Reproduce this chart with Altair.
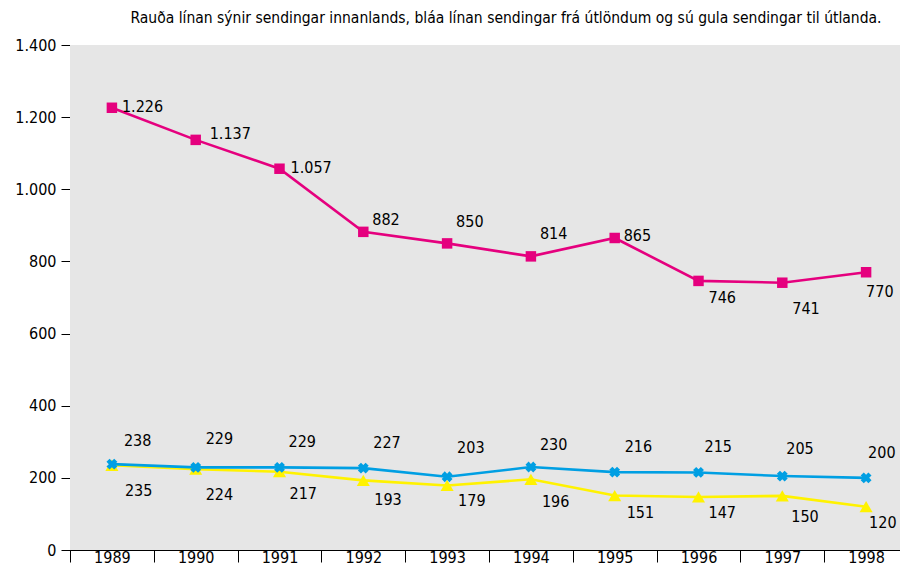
import altair as alt
import pandas as pd

# ---- data ----
years = ["1989", "1990", "1991", "1992", "1993", "1994", "1995", "1996", "1997", "1998"]
innanlands = [1226, 1137, 1057, 882, 850, 814, 865, 746, 741, 770]      # red/magenta
fra_utlondum = [238, 229, 229, 227, 203, 230, 216, 215, 205, 200]       # blue
til_utlanda = [235, 224, 217, 193, 179, 196, 151, 147, 150, 120]        # yellow

title_text = ("Rauða línan sýnir sendingar innanlands, bláa línan sendingar "
              "frá útlöndum og sú gula sendingar til útlanda.")
y_ticks = [0, 200, 400, 600, 800, 1000, 1200, 1400]

# ---- label placement offsets (pixels, relative to each point) ----
mag_dx = [10, 14, 11, 9, 9, 9, 9, 10, 10, 0]
mag_dy = [-1, -6, -1, -12, -21, -22, -2, 17, 26, 20]
blue_dx = [12, 10, 9, 10, 10, 9, 10, 6, 4, 2]
blue_dy = [-23, -28, -25, -25, -29, -22, -25, -25, -27, -25]
yel_dx = [13, 10, 10, 11, 11, 11, 12, 10, 9, 3]
yel_dy = [26, 26, 22, 20, 16, 23, 17, 16, 21, 16]

# ---- style ----
FONT = "'Liberation Sans Narrow', 'DejaVu Sans Condensed', 'Arial Narrow', sans-serif"
MAGENTA = "#E5007E"
BLUE = "#009FE3"
YELLOW = "#FFF200"
W, H = 838, 505
YMAX = 1400
BAND = W / len(years)
PX_PER_UNIT = H / YMAX

series = [
    ("til", til_utlanda, yel_dx, yel_dy, YELLOW, "triangle-up", 170, 0),
    ("fra", fra_utlondum, blue_dx, blue_dy, BLUE, "cross", 120, 45),
    ("inn", innanlands, mag_dx, mag_dy, MAGENTA, "square", 110, 0),
]

fmt_expr = "replace(format(datum.v, ','), ',', '.')"

y_axis = alt.Axis(title=None, values=y_ticks,
                  labelExpr="replace(format(datum.value, ','), ',', '.')",
                  grid=True, gridColor="black", gridOpacity=1, gridWidth=1,
                  domainColor="black", tickColor="black", tickSize=9,
                  labelPadding=5, labelFont=FONT, labelFontSize=16,
                  labelColor="black")
y_scale = alt.Scale(domain=[0, YMAX], nice=False)

x_enc = alt.X("year:O", sort=years,
              scale=alt.Scale(type="band", paddingInner=0, paddingOuter=0),
              axis=alt.Axis(title=None, tickBand="extent", labelAngle=0,
                            domainColor="black", tickColor="black", tickSize=12,
                            labelPadding=-13, labelFont=FONT, labelFontSize=16,
                            labelColor="black", grid=False))
y_enc = alt.Y("v:Q", scale=y_scale, axis=y_axis)

layers = []
label_rows = []
for key, vals, dxs, dys, color, shape, size, angle in series:
    df = pd.DataFrame({"year": years, "v": vals})
    base = alt.Chart(df)
    layers.append(base.mark_line(color=color, strokeWidth=2.6).encode(x=x_enc, y=y_enc))
    layers.append(base.mark_point(shape=shape, filled=True, size=size, angle=angle,
                                  color=color, opacity=1).encode(x=x_enc, y=y_enc))
    for i, (val, dx, dy) in enumerate(zip(vals, dxs, dys)):
        label_rows.append({"v": val,
                           "lx": i + 0.5 + dx / BAND,
                           "ly": val - dy / PX_PER_UNIT})

background = alt.Chart(pd.DataFrame({"v": [0]})).mark_rect(color="#E6E6E6").encode(
    x=alt.value(0), x2=alt.value(W), y=alt.value(0), y2=alt.value(H))

series_layer = alt.layer(*layers)

labels_df = pd.DataFrame(label_rows)
labels = alt.Chart(labels_df).transform_calculate(txt=fmt_expr).mark_text(
    align="left", baseline="middle", font=FONT, fontSize=16, color="black"
).encode(
    x=alt.X("lx:Q", scale=alt.Scale(domain=[0, len(years)], nice=False, zero=False), axis=None),
    y=alt.Y("ly:Q", scale=y_scale, axis=y_axis),
    text="txt:N",
)

chart = alt.layer(background, series_layer, labels).resolve_scale(x="independent").properties(
    width=W, height=H,
    title=alt.TitleParams(title_text, font=FONT, fontSize=15.5, fontWeight="normal",
                          color="black", anchor="middle", dx=17, offset=11),
    autosize=alt.AutoSizeParams(type="none"),
    padding={"left": 62, "top": 37, "right": -8, "bottom": 16},
).configure_view(stroke=None).configure(background="white")

chart.save("out.html", embed_options={"renderer": "svg", "actions": False})
